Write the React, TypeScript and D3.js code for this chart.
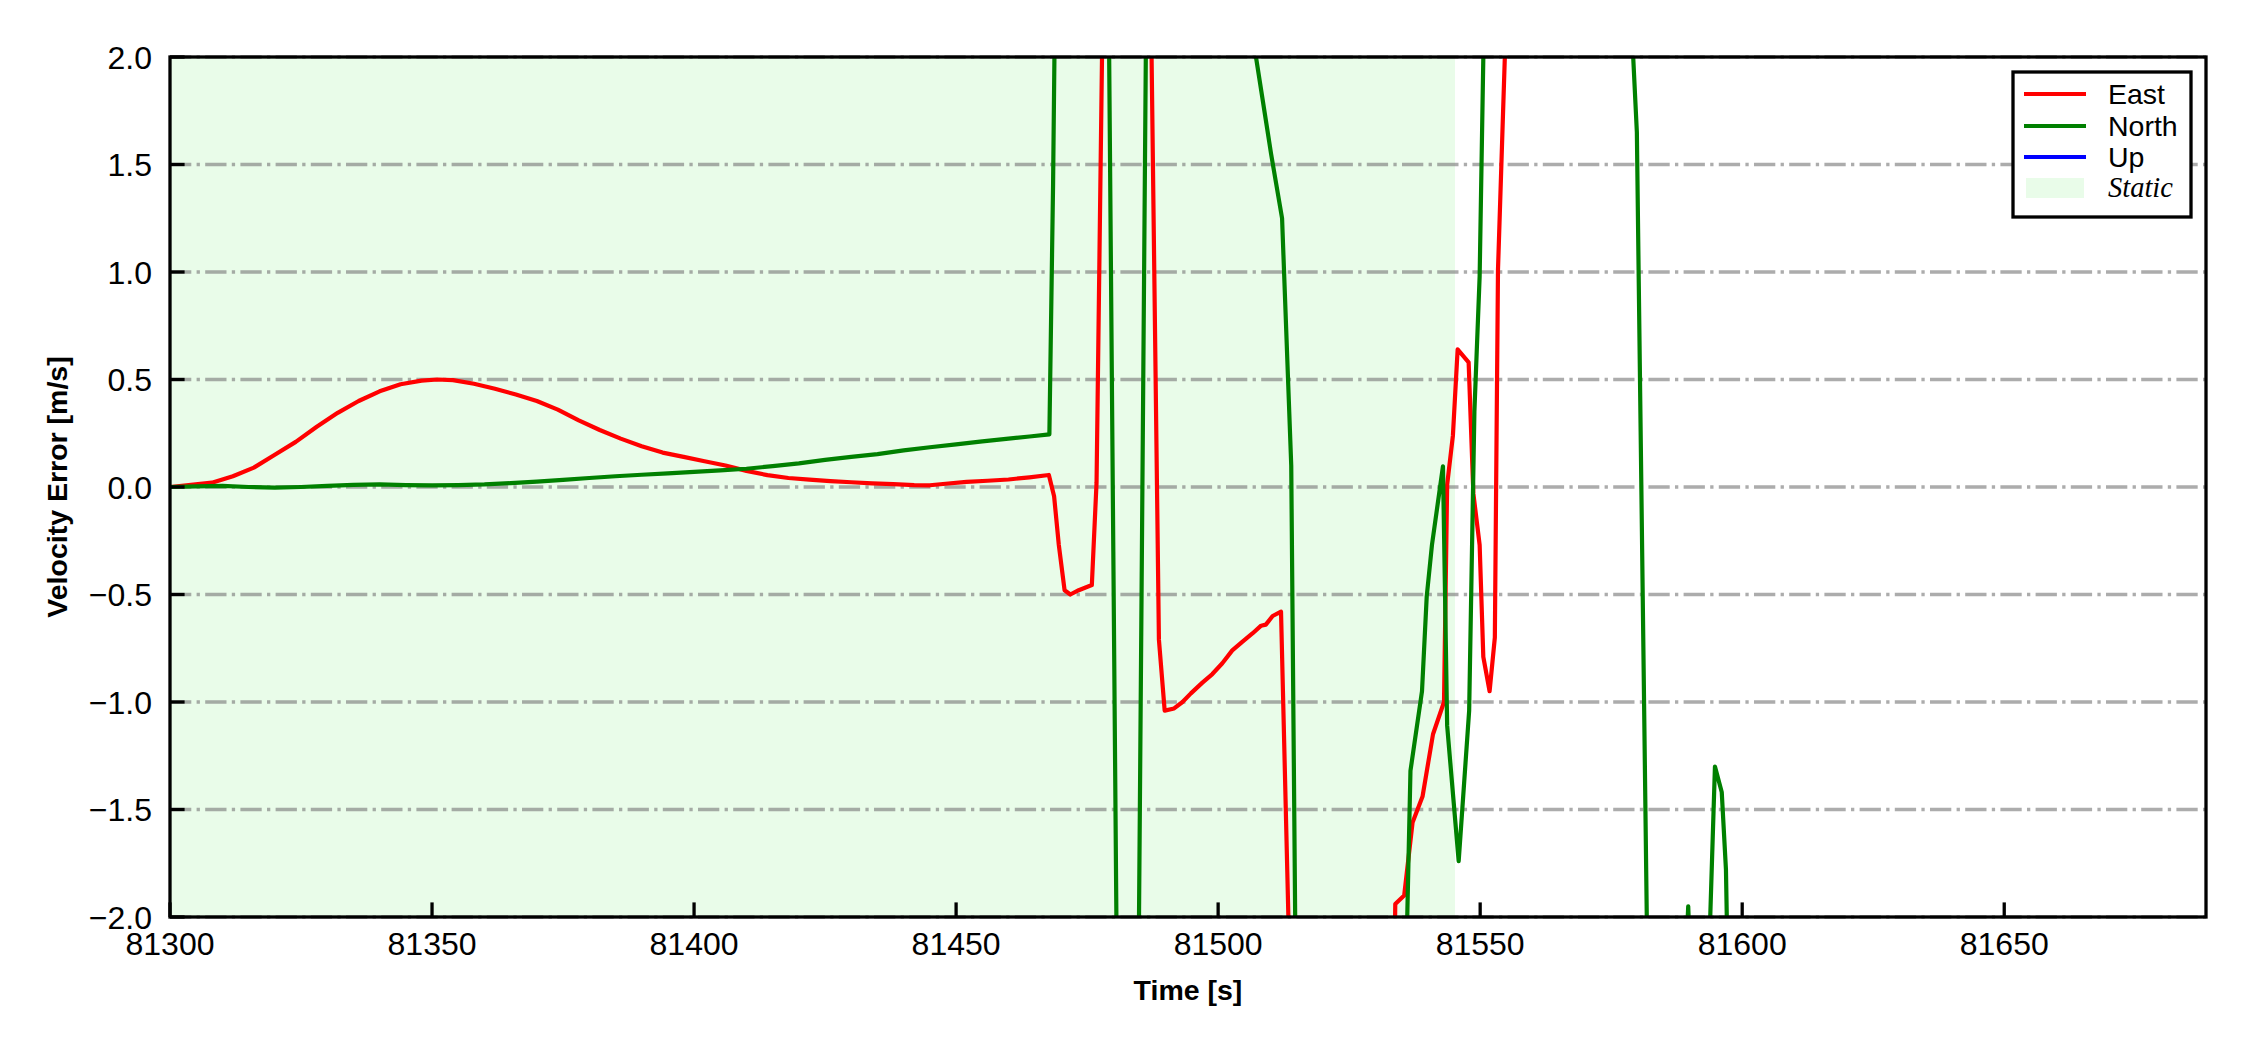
import React from "react";
import * as d3 from "d3";

// ---------- data ----------
const eastTime = [
  81300, 81304, 81308, 81312, 81316, 81320, 81324, 81328, 81332, 81336, 81340, 81344, 81348, 81351,
  81354, 81358, 81362, 81366, 81370, 81374, 81378, 81382, 81386, 81390, 81394, 81398, 81402, 81406,
  81410, 81414, 81418, 81422, 81426, 81430, 81434, 81438, 81442, 81445, 81448, 81452, 81456, 81460,
  81464, 81467.7, 81468.7, 81469.6, 81470.7, 81471.8, 81473.4, 81475.9, 81476.8, 81478, 81481,
  81486.5, 81488.7, 81489.8, 81491.6, 81493.2, 81494.8, 81497.0, 81498.9, 81500.8, 81502.7, 81504.6,
  81506.6, 81508.2, 81509.1, 81510.4, 81512.0, 81514.0, 81520, 81533.0, 81533.8, 81535.5,
  81537.1, 81539.0, 81541.0, 81543.1, 81543.7, 81544.8, 81545.7, 81547.8, 81548.7, 81549.9, 81550.6,
  81551.8, 81552.8, 81553.4, 81555.5,
];
const eastValue = [
  0.0, 0.01, 0.02, 0.05, 0.09, 0.15, 0.21, 0.28, 0.345, 0.4, 0.445, 0.478, 0.495, 0.5,
  0.497, 0.48, 0.457, 0.43, 0.4, 0.36, 0.31, 0.265, 0.225, 0.19, 0.16, 0.14, 0.12, 0.1,
  0.075, 0.055, 0.042, 0.034, 0.027, 0.022, 0.017, 0.013, 0.009, 0.008, 0.015, 0.024, 0.029, 0.035,
  0.045, 0.056, -0.043, -0.27, -0.48, -0.5, -0.48, -0.456, 0.02, 2.3, 4.5,
  3.55, -0.71, -1.04, -1.03, -1.0, -0.96, -0.91, -0.87, -0.82, -0.76, -0.72,
  -0.68, -0.645, -0.64, -0.6, -0.58, -2.6, -4.0, -3.5, -1.94, -1.9,
  -1.56, -1.44, -1.15, -1.0, 0.01, 0.24, 0.64, 0.58, -0.03, -0.27, -0.79,
  -0.95, -0.7, 1.01, 2.6,
];

const northTime = [
  81300, 81305, 81310, 81315, 81320, 81325, 81330, 81335, 81340, 81345, 81350, 81355, 81360, 81365,
  81370, 81375, 81380, 81385, 81390, 81395, 81400, 81405, 81410, 81415, 81420, 81425, 81430, 81435,
  81440, 81445, 81450, 81455, 81460, 81464, 81467.8, 81468.5, 81469.2, 81475, 81479, 81480, 81481,
  81484.3, 81486.8, 81495, 81505.3, 81510.1, 81512.2, 81513.95, 81515, 81525, 81535, 81536.7,
  81538.9, 81539.8, 81540.8, 81542.9, 81543.7, 81545.9, 81547.9, 81548.9, 81549.9, 81551.5, 81565,
  81578, 81579.9, 81582, 81586, 81589.7, 81590.5, 81593, 81594.8, 81596.1, 81596.9, 81598,
];
const northValue = [
  0.0, 0.003, 0.005, 0.0, -0.003, 0.0, 0.005, 0.01, 0.012, 0.009, 0.008, 0.009, 0.012, 0.018,
  0.025, 0.033, 0.042, 0.05, 0.057, 0.063, 0.07, 0.077, 0.085, 0.097, 0.11, 0.126, 0.14, 0.153,
  0.17, 0.185, 0.198, 0.212, 0.225, 0.235, 0.245, 1.4, 3.0, 4.5, 2.6, -0.3, -3.2,
  -3.85, 3.85, 4.5, 2.3, 1.55, 1.25, 0.1, -2.84, -4.5, -3.2, -1.32,
  -0.95, -0.51, -0.27, 0.096, -1.11, -1.74, -1.04, 0.35, 0.98, 3.3, 4.5,
  2.6, 1.65, -2.4, -4.0, -1.95, -2.5, -2.7, -1.3, -1.42, -1.78, -3.3,
];

const upTime: number[] = [];
const upValue: number[] = [];

const staticSpan = [81300, 81545.2];

const xTicks = [81300, 81350, 81400, 81450, 81500, 81550, 81600, 81650];
const yTicks = [-2.0, -1.5, -1.0, -0.5, 0.0, 0.5, 1.0, 1.5, 2.0];

const seriesNames = ["East", "North", "Up"];
const seriesColors = ["#ff0000", "#008000", "#0000ff"];

// ---------- layout ----------
const W = 2250;
const H = 1050;
const L = 170, R = 2206, T = 57, B = 917;
const FONT = "'Liberation Sans', Arial, Helvetica, sans-serif";

const fmtY = (v: number) => (v < 0 ? "\u2212" : "") + Math.abs(v).toFixed(1);

export default function App() {
  const x = d3.scaleLinear().domain([81300, 81688.5]).range([L, R]);
  const y = d3.scaleLinear().domain([-2, 2]).range([B, T]);

  const line = d3
    .line<[number, number]>()
    .x((d) => x(d[0]))
    .y((d) => y(d[1]));

  const series = [
    { t: eastTime, v: eastValue },
    { t: northTime, v: northValue },
    { t: upTime, v: upValue },
  ];

  const legendX = 2013, legendY = 72, legendW = 178, legendH = 145;
  const rowY = [94, 126, 157, 188];

  return (
    <svg
      width={W}
      height={H}
      style={{ position: "absolute", left: 0, top: 0, display: "block", background: "#fff" }}
    >
      <defs>
        <clipPath id="plotclip">
          <rect x={L} y={T} width={R - L} height={B - T} />
        </clipPath>
      </defs>
      <rect x={0} y={0} width={W} height={H} fill="#fff" />

      {/* static shading */}
      <rect
        x={x(staticSpan[0])}
        y={T}
        width={x(staticSpan[1]) - x(staticSpan[0])}
        height={B - T}
        fill="#90ee90"
        fillOpacity={0.2}
      />

      {/* grid */}
      {yTicks.map((v) => (
        <line
          key={"g" + v}
          x1={L}
          x2={R}
          y1={y(v)}
          y2={y(v)}
          stroke="#808080"
          strokeOpacity={0.65}
          strokeWidth={3.3}
          strokeDasharray="21.3,5.3,3.3,5.3"
        />
      ))}

      {/* series */}
      <g clipPath="url(#plotclip)">
        {series.map((s, i) =>
          s.t.length ? (
            <path
              key={seriesNames[i]}
              d={line(s.t.map((t, k) => [t, s.v[k]] as [number, number])) || ""}
              fill="none"
              stroke={seriesColors[i]}
              strokeWidth={4.2}
              strokeLinejoin="round"
              strokeLinecap="butt"
            />
          ) : null
        )}
      </g>

      {/* ticks */}
      {yTicks.map((v) => (
        <g key={"yt" + v}>
          <line x1={L} x2={L + 14.6} y1={y(v)} y2={y(v)} stroke="#000" strokeWidth={3.3} />
          <text
            x={152}
            y={y(v)}
            dy="0.36em"
            textAnchor="end"
            fontFamily={FONT}
            fontSize={32}
            fill="#000"
          >
            {fmtY(v)}
          </text>
        </g>
      ))}
      {xTicks.map((t) => (
        <g key={"xt" + t}>
          <line x1={x(t)} x2={x(t)} y1={B} y2={B - 14.6} stroke="#000" strokeWidth={3.3} />
          <text x={x(t)} y={955} textAnchor="middle" fontFamily={FONT} fontSize={32} fill="#000">
            {t}
          </text>
        </g>
      ))}

      {/* spines */}
      <rect x={L} y={T} width={R - L} height={B - T} fill="none" stroke="#000" strokeWidth={3.3} />

      {/* axis labels */}
      <text
        x={(L + R) / 2}
        y={1000}
        textAnchor="middle"
        fontFamily={FONT}
        fontSize={28.5}
        fontWeight="bold"
        fill="#000"
      >
        Time [s]
      </text>
      <text
        transform={`translate(66.5, ${(T + B) / 2}) rotate(-90)`}
        textAnchor="middle"
        fontFamily={FONT}
        fontSize={28.5}
        fontWeight="bold"
        fill="#000"
      >
        Velocity Error [m/s]
      </text>

      {/* legend */}
      <g>
        <rect
          x={legendX}
          y={legendY}
          width={legendW}
          height={legendH}
          fill="#fff"
          stroke="#000"
          strokeWidth={3.3}
        />
        {seriesNames.map((n, i) => (
          <g key={"lg" + n}>
            <line
              x1={2024}
              x2={2086}
              y1={rowY[i]}
              y2={rowY[i]}
              stroke={seriesColors[i]}
              strokeWidth={4.2}
            />
            <text x={2108} y={rowY[i] + 10.3} fontFamily={FONT} fontSize={28.5} fill="#000">
              {n}
            </text>
          </g>
        ))}
        <rect x={2026} y={rowY[3] - 10} width={58} height={20} fill="#90ee90" fillOpacity={0.2} />
        <text
          x={2108}
          y={rowY[3] + 9}
          fontFamily="'Liberation Serif', 'Times New Roman', serif"
          fontStyle="italic"
          fontSize={28.5}
          fill="#000"
        >
          Static
        </text>
      </g>
    </svg>
  );
}
